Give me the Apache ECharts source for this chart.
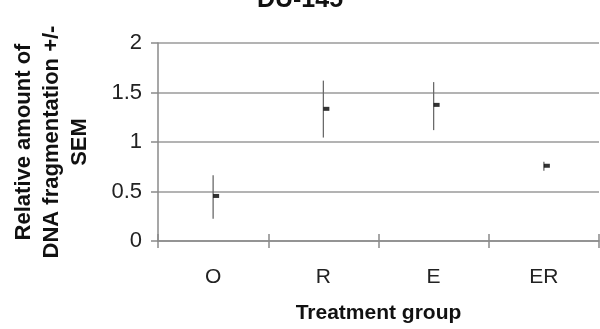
<!DOCTYPE html>
<html><head><meta charset="utf-8">
<script src="https://cdn.jsdelivr.net/npm/echarts@6/dist/echarts.min.js"></script>
<style>html,body{margin:0;padding:0;background:#fff}#c{width:600px;height:329px}</style>
</head><body><div id="c"></div>
<script>
const categories = ['O', 'R', 'E', 'ER'];
const means = [0.455, 1.335, 1.375, 0.76];
const errLow = [0.225, 1.045, 1.12, 0.71];
const errHigh = [0.665, 1.62, 1.605, 0.80];
const yTicks = [0, 0.5, 1, 1.5, 2];

const chart = echarts.init(document.getElementById('c'));
const font = 'Liberation Sans, Arial, sans-serif';
const axisCol = '#8a8a8a';
chart.setOption({
  animation: false,
  title: {
    text: 'DU-145', left: 'center', top: -17,
    textStyle: { fontFamily: font, fontSize: 25, fontWeight: 'bold', color: '#111' }
  },
  grid: { left: 158, right: 1, top: 43, bottom: 88 },
  xAxis: [{
    type: 'category', data: categories, boundaryGap: true,
    axisLine: { lineStyle: { color: axisCol, width: 1.5 } },
    axisTick: { show: true, length: 7, inside: false, lineStyle: { color: axisCol, width: 1.5 } },
    axisLabel: { margin: 26, fontFamily: font, fontSize: 21, color: '#222' },
    name: 'Treatment group', nameLocation: 'middle', nameGap: 62,
    nameTextStyle: { fontFamily: font, fontSize: 21, fontWeight: 'bold', color: '#111' }
  }, {
    type: 'category', data: categories, boundaryGap: true, position: 'bottom',
    axisLine: { show: false },
    axisTick: { show: true, length: 7, inside: true, lineStyle: { color: axisCol, width: 1.5 } },
    axisLabel: { show: false }
  }],
  yAxis: {
    type: 'value', min: 0, max: 2, interval: 0.5,
    axisLine: { show: true, lineStyle: { color: axisCol, width: 1.5 } },
    axisTick: { show: true, length: 7, lineStyle: { color: axisCol, width: 1.5 } },
    axisLabel: { margin: 16, fontFamily: font, fontSize: 22, color: '#222',
      formatter: v => yTicks.includes(v) ? String(v) : '' },
    splitLine: { show: true, lineStyle: { color: '#9a9a9a', width: 1.5 } },
    name: 'Relative amount of\nDNA fragmentation +/-\nSEM',
    nameLocation: 'middle', nameRotate: 90, nameGap: 64,
    nameTextStyle: { fontFamily: font, fontSize: 22, fontWeight: 'bold', color: '#111', lineHeight: 28, align: 'center' }
  },
  series: [{
    type: 'custom',
    data: categories.map((c, i) => [i, errLow[i], errHigh[i]]),
    renderItem: (params, api) => {
      const lo = api.coord([api.value(0), api.value(1)]);
      const hi = api.coord([api.value(0), api.value(2)]);
      return { type: 'line', shape: { x1: lo[0], y1: lo[1], x2: hi[0], y2: hi[1] },
        style: { stroke: '#6a6a6a', lineWidth: 1.3 } };
    },
    encode: { x: 0, y: [1, 2] }
  }, {
    type: 'scatter',
    data: means.map((m, i) => [i, m]),
    symbol: 'rect', symbolSize: [6, 4], symbolOffset: [3, 0],
    itemStyle: { color: '#000' }
  }]
});
</script></body></html>
